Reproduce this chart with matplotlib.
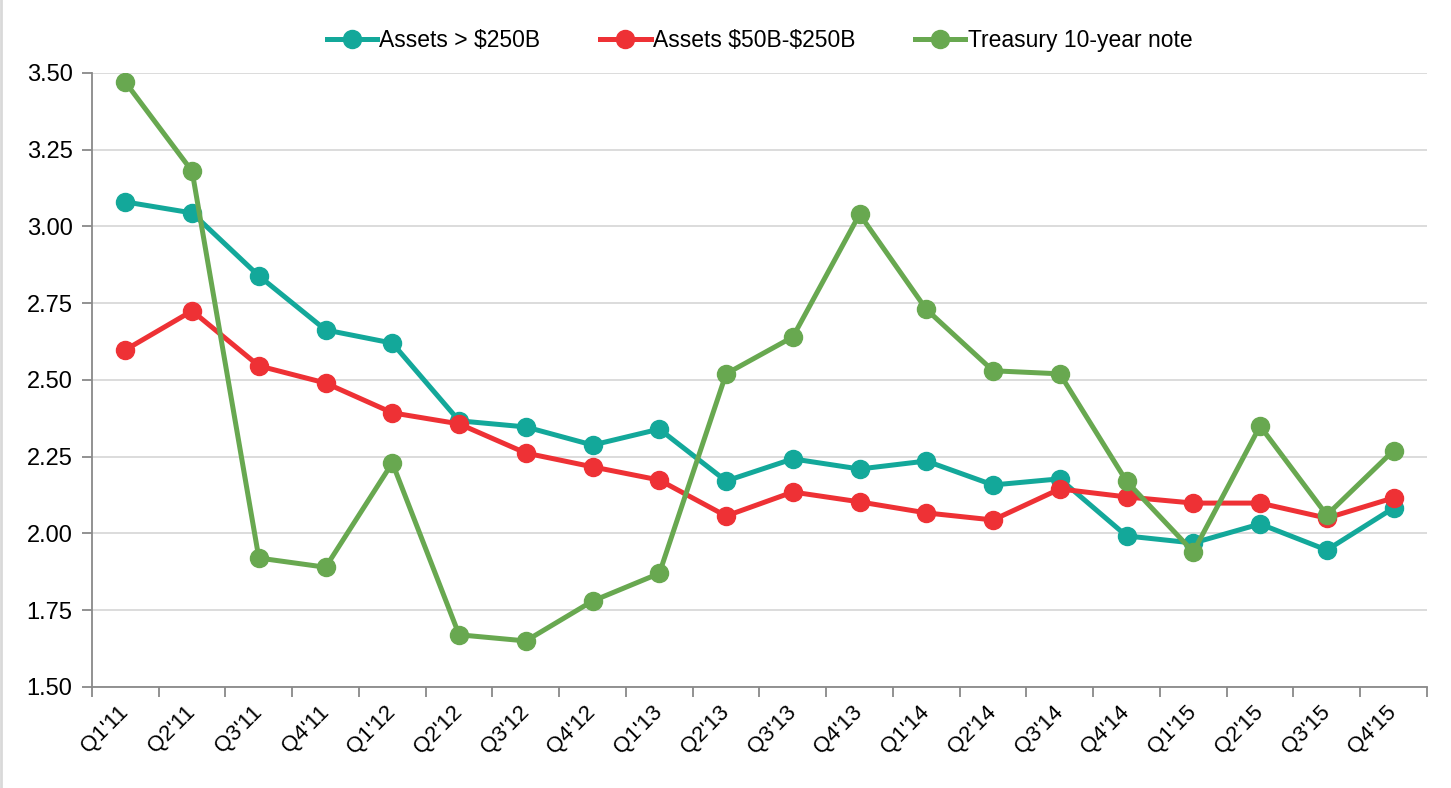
import matplotlib
matplotlib.use("Agg")
import matplotlib.pyplot as plt
from matplotlib.lines import Line2D

plt.rcParams['font.family'] = ['Liberation Sans', 'DejaVu Sans']

quarters = ["Q1'11", "Q2'11", "Q3'11", "Q4'11", "Q1'12", "Q2'12", "Q3'12", "Q4'12",
            "Q1'13", "Q2'13", "Q3'13", "Q4'13", "Q1'14", "Q2'14", "Q3'14", "Q4'14",
            "Q1'15", "Q2'15", "Q3'15", "Q4'15"]
large_banks = [3.08, 3.044, 2.839, 2.663, 2.62, 2.367, 2.347, 2.288, 2.34, 2.171,
               2.243, 2.21, 2.236, 2.158, 2.178, 1.992, 1.969, 2.031, 1.946, 2.083]
mid_banks = [2.598, 2.725, 2.546, 2.49, 2.393, 2.357, 2.262, 2.217, 2.174, 2.057,
             2.135, 2.103, 2.067, 2.044, 2.145, 2.119, 2.099, 2.099, 2.05, 2.116]
treasury = [3.47, 3.18, 1.92, 1.89, 2.23, 1.67, 1.65, 1.78, 1.87, 2.52,
            2.64, 3.04, 2.73, 2.53, 2.52, 2.17, 1.94, 2.35, 2.06, 2.27]
series_names = ["Assets > \\$250B", "Assets \\$50B-\\$250B", "Treasury 10-year note"]
colors = ["#13a89a", "#ee3135", "#68a850"]

fig = plt.figure(figsize=(14.51, 7.88), dpi=100)
ax = fig.add_axes([0.0634, 0.1282, 0.92, 0.7792])

x = list(range(len(quarters)))
for vals, name, c in zip([large_banks, mid_banks, treasury], series_names, colors):
    ax.plot(x, vals, color=c, lw=3.6, marker='o', ms=13, label=name, zorder=3)

ax.set_xlim(-0.5, len(quarters) - 0.5)
ax.set_ylim(1.5, 3.5)
ax.set_yticks([1.5, 1.75, 2.0, 2.25, 2.5, 2.75, 3.0, 3.25, 3.5])
ax.set_yticklabels(["%.2f" % v for v in ax.get_yticks()])
ax.set_xticks(x)
ax.set_xticklabels(quarters, rotation=45, ha='right', va='center', rotation_mode='anchor')
ax.set_xticks([i - 0.5 for i in range(len(quarters) + 1)], minor=True)
ax.tick_params(axis='x', which='major', length=0, pad=16, labelsize=16)
ax.tick_params(axis='x', which='minor', length=7, color='#898989', width=1.3)
ax.tick_params(axis='y', length=7, color='#898989', width=1.3, labelsize=17, pad=7)
ax.grid(axis='y', color='#d9d9d9', lw=1.3, zorder=0)
ax.set_axisbelow(True)
for s in ['top', 'right']:
    ax.spines[s].set_visible(False)
for s in ['left', 'bottom']:
    ax.spines[s].set_color('#898989')
    ax.spines[s].set_linewidth(1.3)

ax.legend(loc='lower center', bbox_to_anchor=(0.5, 1.0), ncol=3, frameon=False,
          fontsize=16.5, handlelength=2.2, handletextpad=0.1, columnspacing=2.6,
          borderaxespad=0.5)

fig.add_artist(Line2D([0.001, 0.001], [0, 1], color='#d9d9d9', lw=2, transform=fig.transFigure))

fig.savefig("out.png", dpi=100)
